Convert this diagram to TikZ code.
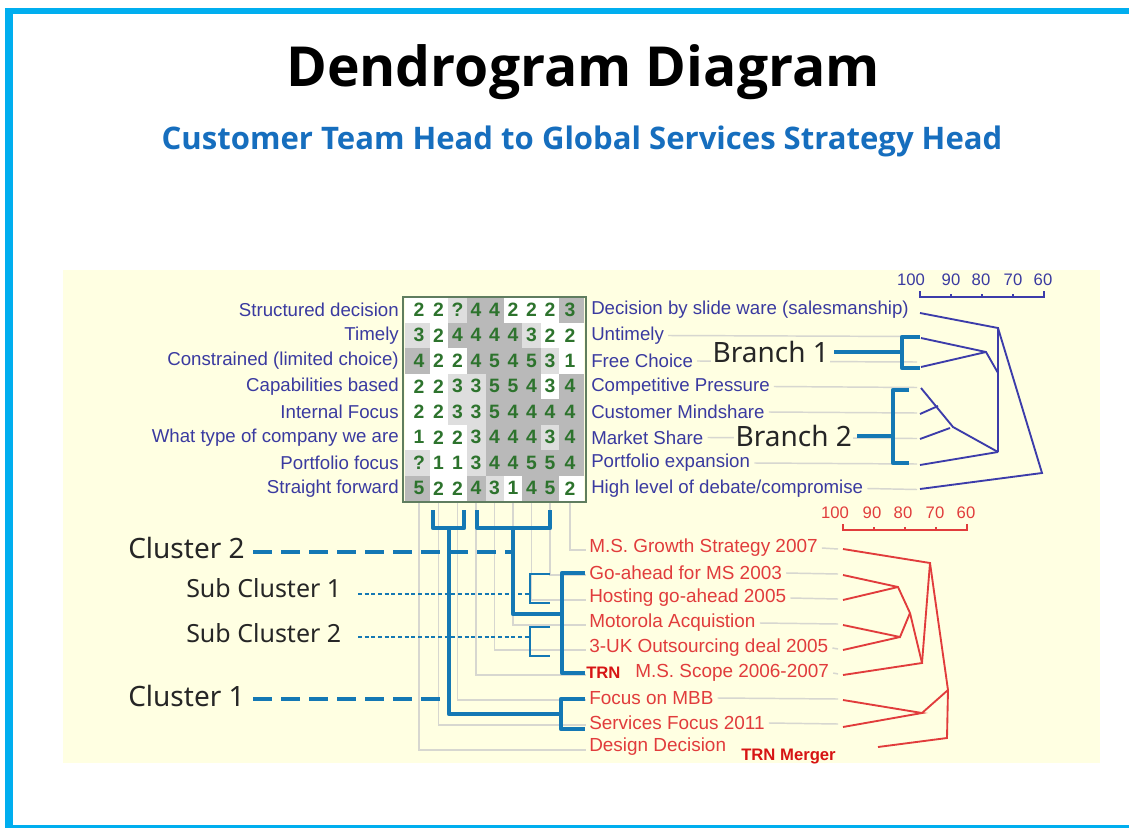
\documentclass[tikz,border=0pt]{standalone}
\usepackage{fontspec}
\setmainfont{Liberation Sans}
\newfontfamily\notosans{Noto Sans}
\newfontfamily\titlefont{Open Sans}
\definecolor{framec}{RGB}{0,174,239}
\definecolor{bgy}{RGB}{255,255,226}
\definecolor{ttlblue}{RGB}{22,110,190}
\definecolor{lblue}{RGB}{58,58,160}
\definecolor{dendb}{RGB}{60,60,170}
\definecolor{dred}{RGB}{225,60,60}
\definecolor{trnred}{RGB}{215,20,20}
\definecolor{dgreen}{RGB}{45,115,45}
\definecolor{boxg}{RGB}{95,125,95}
\definecolor{thickc}{RGB}{20,120,180}
\definecolor{guidec}{RGB}{215,215,208}
\definecolor{sh0}{RGB}{255,255,255}
\definecolor{sh1}{RGB}{222,222,222}
\definecolor{sh2}{RGB}{185,185,185}
\begin{document}
\begin{tikzpicture}[x=0.75pt,y=-0.75pt,
  lbl/.style={font=\fontsize{14}{16}\selectfont, text=lblue, inner sep=0pt},
  rlbl/.style={font=\fontsize{14.2}{16}\selectfont, text=dred, inner sep=0pt, anchor=west},
  digit/.style={font=\fontsize{14.5}{16}\selectfont\bfseries, text=dgreen, inner sep=0pt},
  axl/.style={font=\fontsize{12.5}{14}\selectfont, inner sep=0pt},
  guide/.style={draw=guidec, line width=1.1pt},
  dend/.style={draw=dendb, line width=1.4pt},
  rdend/.style={draw=dred, line width=1.4pt},
  thickb/.style={draw=thickc, line width=3.6pt, line join=round},
  thickdash/.style={draw=thickc, line width=3.6pt, dash pattern=on 14pt off 7pt},
  thinb/.style={draw=thickc, line width=1pt},
  thindash/.style={draw=thickc, line width=1pt, dash pattern=on 3pt off 2pt},
  clbl/.style={font=\notosans\fontsize{21}{24}\selectfont, inner sep=0pt, text=black!85, anchor=west},
  slbl/.style={font=\notosans\fontsize{18.75}{22}\selectfont, inner sep=0pt, text=black!85, anchor=west},
  trn/.style={font=\fontsize{12.5}{14}\selectfont\bfseries, text=trnred, inner sep=0pt, anchor=west}
]
\useasboundingbox (0,0) rectangle (1129,828);
\fill[white] (0,0) rectangle (1129,828);
\fill[bgy] (63,270) rectangle (1100,763);
\fill[framec] (5,8) rectangle (1129,14);
\fill[framec] (5,8) rectangle (13,828);
\fill[framec] (5,825) rectangle (1129,828);

% titles
\node[font=\titlefont\bfseries\fontsize{41.4}{48}\selectfont, inner sep=0pt] (title) at (583,72) {Dendrogram Diagram};
\node[font=\titlefont\bfseries\fontsize{23.3}{28}\selectfont, text=ttlblue, inner sep=0pt] (subtitle) at (582,141) {Customer Team Head to Global Services Strategy Head};

% light gray L lines from grid columns to red rows
\foreach \c/\xm/\yy in {1/419/750,2/438.5/725,3/457.5/700,4/476/675,5/494.5/650,6/513/625,7/531.5/600,8/550/575,9/570/550}
  \draw[guide] (\xm,502) |- (586,\yy);

% grid
\foreach \rowvals [count=\r] in {
 {2/0,2/0,?/1,4/2,4/2,2/0,2/0,2/0,3/2},
 {3/1,2/0,4/2,4/2,4/2,4/2,3/1,2/0,2/0},
 {4/2,2/0,2/0,4/2,5/2,4/2,5/2,3/1,1/0},
 {2/0,2/0,3/1,3/1,5/2,5/2,4/2,3/0,4/2},
 {2/0,2/0,3/1,3/1,5/2,4/2,4/2,4/2,4/2},
 {1/0,2/0,2/0,3/1,4/2,4/2,4/2,3/1,4/2},
 {?/1,1/0,1/0,3/1,4/2,4/2,5/2,5/2,4/2},
 {5/2,2/0,2/0,4/2,3/1,1/0,4/2,5/2,2/0}}{
  \foreach \v/\s [count=\c] in \rowvals {
    \pgfmathsetmacro\xa{{405,430,448,467,485.5,504,522,540.5,559}[\c-1]}
    \pgfmathsetmacro\xb{{430,448,467,485.5,504,522,540.5,559,584}[\c-1]}
    \pgfmathsetmacro\xm{{419,438.5,457.5,476,494.5,513,531.5,550,570}[\c-1]}
    \pgfmathsetmacro\ym{309.75+25.5*(\r-1)}
    \fill[fill=sh\s] (\xa,\ym-12.75) rectangle (\xb,\ym+12.75);
    \node[digit] (g\r-\c) at (\xm,\ym) {\v};
  }
}
\draw[draw=boxg, line width=1.5pt] (403,297) rectangle (586,502);

% left labels
\foreach \t [count=\i] in {Structured decision,Timely,Constrained (limited choice),Capabilities based,Internal Focus,What type of company we are,Portfolio focus,Straight forward}
  \node[lbl, anchor=east] (L\i) at (399,{310+25.5*(\i-1)}) {\t};

% right labels
\foreach \t [count=\i] in {Decision by slide ware (salesmanship),Untimely,Free Choice,Competitive Pressure,Customer Mindshare,Market Share,Portfolio expansion,High level of debate/compromise}
  \node[lbl, anchor=west] (R\i) at (591,{310+25.5*(\i-1)}) {\t};
\foreach \i in {2,...,8}
  \draw[guide] ([xshift=3pt]R\i.east) -- (917,{311+25.5*(\i-1)});

% upper axis
\foreach \x/\t in {911/100,951/90,981/80,1013/70,1043/60}
  \node[axl, text=lblue] (ua\t) at (\x,280) {\t};
\draw[dend, line width=1.2pt] (920,291) -- (920,297) -- (1044,297) -- (1044,291);
\foreach \x in {951,982,1013} \draw[dend, line width=1pt] (\x,297) -- (\x,294);

% upper dendrogram
\coordinate (ul1) at (920,313);
\coordinate (ul2) at (921,338);
\coordinate (ul3) at (921,367);
\coordinate (ul4) at (921,388);
\coordinate (ul5) at (920,414);
\coordinate (ul6) at (920,439);
\coordinate (ul7) at (920,465);
\coordinate (ul8) at (920,489);
\coordinate (uA) at (998,328);
\coordinate (uB) at (986,352);
\coordinate (uBj) at (998,373);
\coordinate (uN1) at (938,406);
\coordinate (uN2) at (953,427);
\coordinate (uN3) at (998,452);
\coordinate (uR) at (1042,473);
\draw[dend] (ul1) -- (uA) -- (uN3);
\draw[dend] (ul2) -- (uB) -- (uBj);
\draw[dend] (ul3) -- (uB);
\draw[dend] (ul4) -- (uN2) -- (uN3);
\draw[dend] (ul5) -- (uN1);
\draw[dend] (ul6) -- (950,428);
\draw[dend] (ul7) -- (uN3);
\draw[dend] (uA) -- (uR) -- (ul8);

% branch annotations
\node[clbl, fill=bgy, inner sep=1pt] (br1) at (711,352) {Branch 1};
\node[clbl, fill=bgy, inner sep=1pt] (br2) at (734,436) {Branch 2};
\coordinate (b1v) at (902,352);
\coordinate (b2v) at (893,436);
\draw[thickb] ([xshift=3pt]br1.east) -- (b1v);
\draw[thickb] (920,337) -- (902,337) -- (902,368) -- (920,368);
\draw[thickb] ([xshift=3pt]br2.east) -- (b2v);
\draw[thickb] (909,390) -- (893,390) -- (893,463) -- (909,463);

% red labels
\node[rlbl] (E1) at (589,548) {M.S. Growth Strategy 2007};
\node[rlbl] (E2) at (589,573) {Go-ahead for MS 2003};
\node[rlbl] (E3) at (589,598) {Hosting go-ahead 2005};
\node[rlbl] (E4) at (589,623) {Motorola Acquistion};
\node[rlbl] (E5) at (589,648) {3-UK Outsourcing deal 2005};
\node[trn] (trn1) at (586,673) {TRN};
\node[rlbl] (E6) at (635,673) {M.S. Scope 2006-2007};
\node[rlbl] (E7) at (589,698) {Focus on MBB};
\node[rlbl] (E8) at (589,723) {Services Focus 2011};
\node[rlbl] (E9) at (589,747) {Design Decision};
\node[trn] (trn2) at (741,757) {TRN Merger};
\foreach \i/\yy in {1/549,2/574,3/599,4/624,5/649,6/674,7/699,8/724}
  \draw[guide] ([xshift=3pt]E\i.east) -- (838,\yy);

% lower axis
\foreach \x/\t in {835/100,872/90,903/80,935/70,966/60}
  \node[axl, text=dred] (la\t) at (\x,513) {\t};
\draw[rdend, line width=1.2pt] (843,524) -- (843,530) -- (967,530) -- (967,524);
\foreach \x in {874,905,936} \draw[rdend, line width=1pt] (\x,530) -- (\x,527);

% lower dendrogram
\coordinate (ll1) at (843,549);
\coordinate (ll2) at (843,575);
\coordinate (ll3) at (843,600);
\coordinate (ll4) at (843,625);
\coordinate (ll5) at (843,650);
\coordinate (ll6) at (843,675);
\coordinate (ll7) at (843,700);
\coordinate (ll8) at (843,727);
\coordinate (ll9) at (878,747);
\coordinate (lR1) at (930,563);
\coordinate (lG1) at (898,587);
\coordinate (lG2) at (900,637);
\coordinate (lG3) at (910,613);
\coordinate (lG4) at (922,663);
\coordinate (lF) at (922,713);
\coordinate (lRoot) at (948,690);
\coordinate (lD) at (947,738);
\draw[rdend] (ll1) -- (lR1) -- (lG4);
\draw[rdend] (ll2) -- (lG1) -- (lG3);
\draw[rdend] (ll3) -- (lG1);
\draw[rdend] (ll4) -- (lG2) -- (lG3);
\draw[rdend] (ll5) -- (lG2);
\draw[rdend] (lG3) -- (lG4) -- (ll6);
\draw[rdend] (lR1) -- (lRoot) -- (lD) -- (ll9);
\draw[rdend] (ll7) -- (lF) -- (ll8);
\draw[rdend] (lF) -- (lRoot);

% cluster brackets (thick blue)
\coordinate (cA) at (449,528);
\coordinate (cB) at (513,528);
\coordinate (c1h) at (449,714);
\coordinate (c2h) at (513,614);
\draw[thickb] (433,510) -- (433,528) -- (464,528) -- (464,510);
\draw[thickb] (477,510) -- (477,528) -- (550,528) -- (550,510);
\draw[thickb] (cA) -- (c1h) -- (562,714);
\draw[thickb] (585,699) -- (561,699) -- (561,729) -- (585,729);
\draw[thickb] (cB) -- (c2h) -- (562,614);
\draw[thickb] (585,573) -- (562,573) -- (562,673) -- (585,673);

% sub cluster brackets (thin)
\draw[thinb] (550,574) -- (530,574) -- (530,603) -- (550,603);
\draw[thinb] (550,627) -- (530,627) -- (530,656) -- (550,656);

% cluster labels
\node[clbl] (cl2) at (128,548) {Cluster 2};
\node[slbl] (sc1) at (186,588) {Sub Cluster 1};
\node[slbl] (sc2) at (186,633) {Sub Cluster 2};
\node[clbl] (cl1) at (128,696) {Cluster 1};
\coordinate (cl2s) at (253,552);
\coordinate (cl2e) at (513,552);
\coordinate (cl1s) at (253,699);
\coordinate (cl1e) at (441,699);
\coordinate (sc1s) at (358,594);
\coordinate (sc1e) at (530,594);
\coordinate (sc2s) at (358,637);
\coordinate (sc2e) at (530,637);
\draw[thickdash] (cl2s) -- (cl2e);
\draw[thickdash] (cl1s) -- (cl1e);
\draw[thindash] (sc1s) -- (sc1e);
\draw[thindash] (sc2s) -- (sc2e);
\end{tikzpicture}
\end{document}
